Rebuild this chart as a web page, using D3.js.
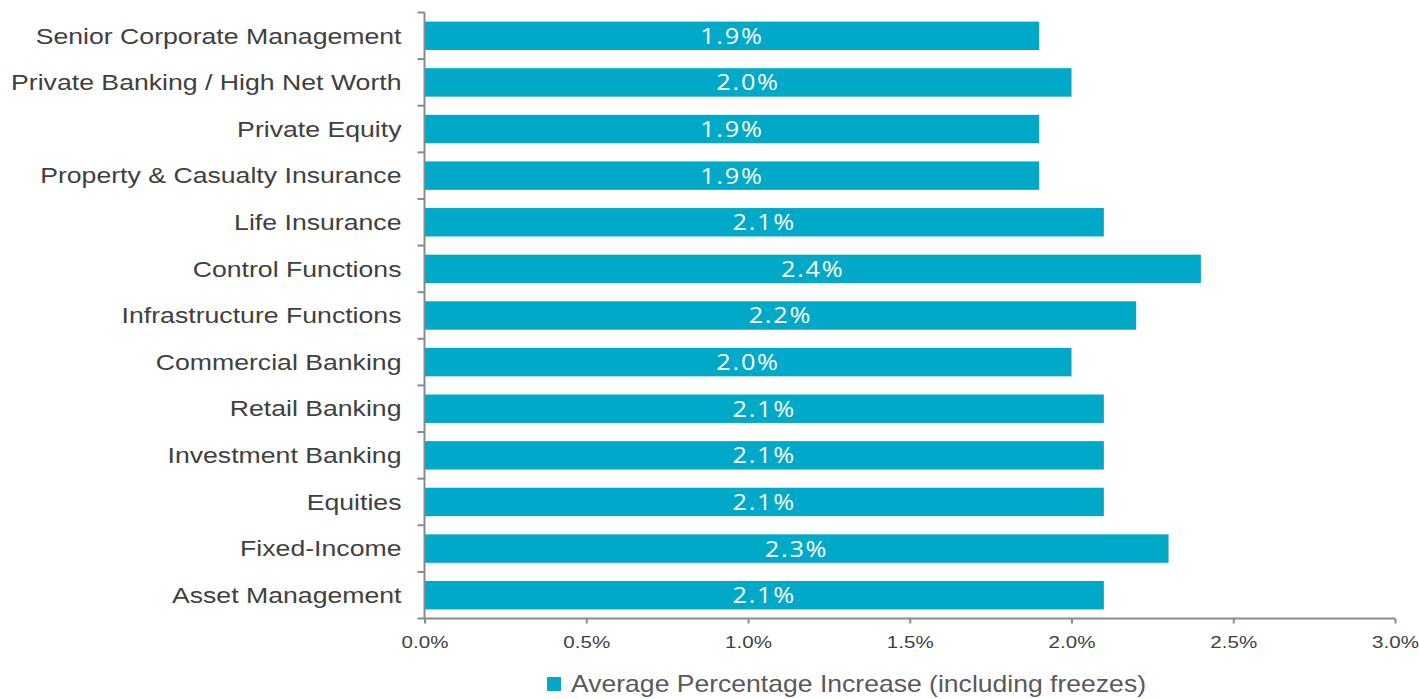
<!DOCTYPE html>
<html>
<head>
<meta charset="utf-8">
<script src="https://cdn.jsdelivr.net/npm/d3@7"></script>
<style>
  body { margin: 0; background: #fff; }
  svg { display: block; }
</style>
</head>
<body>
<div id="chart"></div>
<script>
const categories = [
  'Senior Corporate Management',
  'Private Banking / High Net Worth',
  'Private Equity',
  'Property & Casualty Insurance',
  'Life Insurance',
  'Control Functions',
  'Infrastructure Functions',
  'Commercial Banking',
  'Retail Banking',
  'Investment Banking',
  'Equities',
  'Fixed-Income',
  'Asset Management'
];
const values = [1.9, 2.0, 1.9, 1.9, 2.1, 2.4, 2.2, 2.0, 2.1, 2.1, 2.1, 2.3, 2.1];
const xTicks = [0, 0.5, 1.0, 1.5, 2.0, 2.5, 3.0];
const seriesName = 'Average Percentage Increase (including freezes)';

const width = 1419, height = 699;
const margin = { top: 12.5, right: 24, bottom: 80.5, left: 424.5 };
const barColor = '#00a9c7';
const axisColor = '#898989';
const font = '"Liberation Sans", Arial, sans-serif';

const svg = d3.select('#chart').append('svg')
  .attr('width', width)
  .attr('height', height);

const x = d3.scaleLinear()
  .domain([0, 3])
  .range([margin.left, width - margin.right]);

const y = d3.scaleBand()
  .domain(categories)
  .range([margin.top, height - margin.bottom])
  .paddingInner(0.39)
  .paddingOuter(0.195);

// bars
svg.append('g')
  .selectAll('rect')
  .data(values)
  .join('rect')
  .attr('x', x(0))
  .attr('y', (d, i) => y(categories[i]))
  .attr('width', d => x(d) - x(0))
  .attr('height', y.bandwidth())
  .attr('fill', barColor);

// value labels (the source text is stretched wide, hence scale)
svg.append('g')
  .selectAll('text')
  .data(values)
  .join('text')
  .attr('transform', (d, i) =>
    `translate(${(x(0) + x(d)) / 2},${y(categories[i]) + y.bandwidth() / 2}) scale(1.15,1)`)
  .attr('dy', '0.36em')
  .attr('text-anchor', 'middle')
  .attr('fill', '#fff')
  .style('font-family', '"Open Sans", sans-serif')
  .style('font-size', '22px')
  .style('letter-spacing', '1.5px')
  .text(d => d.toFixed(1) + '%');

// y axis
const yAxis = svg.append('g')
  .attr('transform', `translate(${margin.left},0)`);
yAxis.append('line')
  .attr('y1', margin.top).attr('y2', height - margin.bottom)
  .attr('stroke', axisColor).attr('stroke-width', 2);
const step = y.step();
const bounds = d3.range(categories.length + 1).map(i => margin.top + i * step);
yAxis.selectAll('.ytick')
  .data(bounds)
  .join('line')
  .attr('class', 'ytick')
  .attr('x1', -7).attr('x2', 0)
  .attr('y1', d => d).attr('y2', d => d)
  .attr('stroke', axisColor).attr('stroke-width', 2);
yAxis.selectAll('.ylab')
  .data(categories)
  .join('text')
  .attr('class', 'ylab')
  .attr('transform', d => `translate(-23,${y(d) + y.bandwidth() / 2}) scale(1.24,1)`)
  .attr('dy', '0.36em')
  .attr('text-anchor', 'end')
  .attr('fill', '#404040')
  .style('font-family', font)
  .style('font-size', '21.5px')
  .text(d => d);

// x axis
const xAxis = svg.append('g')
  .attr('transform', `translate(0,${height - margin.bottom})`)
  .call(d3.axisBottom(x).tickValues(xTicks).tickSize(5).tickPadding(12)
    .tickFormat(d => d.toFixed(1) + '%'));
xAxis.select('.domain').attr('stroke', axisColor).attr('stroke-width', 2)
  .attr('d', `M${x(0)},0H${x(3)}`);
xAxis.selectAll('.tick line').attr('stroke', axisColor).attr('stroke-width', 2);
xAxis.selectAll('.tick text')
  .attr('transform', 'scale(1.21,1)')
  .attr('fill', '#404040')
  .style('font-family', font)
  .style('font-size', '17px');

// legend
const legend = svg.append('g').attr('transform', 'translate(547,677)');
legend.append('rect').attr('width', 14).attr('height', 14).attr('fill', barColor);
legend.append('text')
  .attr('transform', 'translate(24,7) scale(1.155,1)')
  .attr('dy', '0.36em')
  .attr('fill', '#595959')
  .style('font-family', font)
  .style('font-size', '23px')
  .text(seriesName);
</script>
</body>
</html>
